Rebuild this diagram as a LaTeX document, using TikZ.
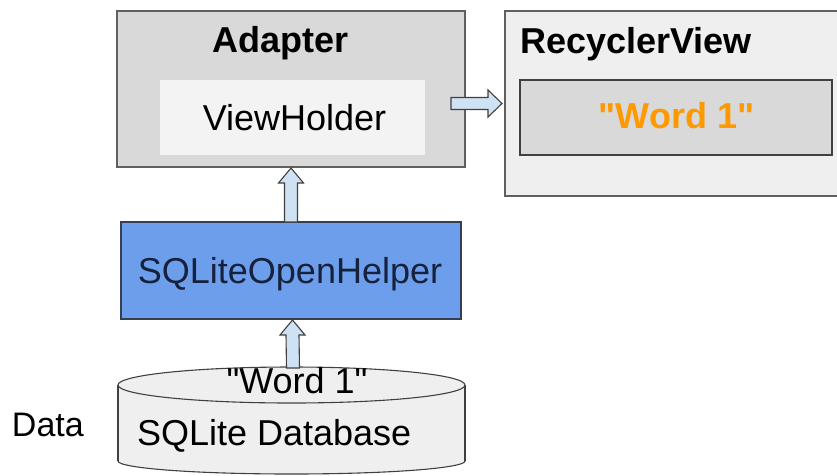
\documentclass[tikz,border=0pt]{standalone}
\usepackage{fontspec}
\setmainfont{Liberation Sans}[Ligatures=TeXOff]
\usetikzlibrary{calc}
\definecolor{adapterfill}{HTML}{D9D9D9}
\definecolor{holderfill}{HTML}{F3F3F3}
\definecolor{rvfill}{HTML}{EFEFEF}
\definecolor{wordfill}{HTML}{D9D9D9}
\definecolor{helperfill}{HTML}{6D9EEB}
\definecolor{helpertext}{HTML}{16223D}
\definecolor{arrowfill}{HTML}{CFE2F3}
\definecolor{wordorange}{HTML}{FF9900}
\definecolor{edgegray}{HTML}{606060}
\definecolor{edgedark}{HTML}{404040}
\begin{document}
\begin{tikzpicture}[x=1pt,y=-1pt,
  box/.style={rectangle, inner sep=0pt, outer sep=0pt, anchor=north west, line width=1.2pt},
  txt/.style={inner sep=0pt, outer sep=0pt, font=\fontsize{36}{43}\selectfont},
  barrow/.style={fill=arrowfill, draw=edgedark, line width=1.1pt, line join=miter},
  dbline/.style={draw=edgedark, line width=1.1pt}
]
\useasboundingbox (0,0) rectangle (837,475);

% Adapter
\node[box, fill=adapterfill, draw=edgegray, minimum width=348, minimum height=156] (adapter) at (117,11) {};
\node[box, fill=holderfill, minimum width=265, minimum height=75] (holder) at (160,80) {};
\node[txt, anchor=base] (tadapter) at (281,52) {\bfseries Adapter};
\node[txt, anchor=base] (tholder) at (294.5,130) {ViewHolder};

% RecyclerView
\node[box, fill=rvfill, draw=edgegray, minimum width=340, minimum height=185] (recycler) at (505,11) {};
\node[box, fill=wordfill, draw=edgedark, minimum width=312, minimum height=75] (wordbox) at (520,80) {};
\node[txt, anchor=base west] (trv) at (520,53) {\bfseries RecyclerView};
\node[txt, anchor=base, text=wordorange] (tword) at (676.5,128) {\bfseries "Word 1"};

% SQLiteOpenHelper
\node[box, fill=helperfill, draw=helpertext!70!gray, minimum width=340, minimum height=97] (helper) at (121,222) {};
\node[txt, anchor=base, text=helpertext] (thelper) at (290,283) {SQLiteOpenHelper};

% Database cylinder
\node[box, minimum width=347, minimum height=94] (db) at (118,367) {};
\fill[rvfill] (291.5,461) ellipse [x radius=173.5, y radius=13];
\draw[dbline] (291.5,461) ellipse [x radius=173.5, y radius=13];
\fill[rvfill] (118,385) rectangle (465,461);
\draw[dbline] (118,385) -- (118,461);
\draw[dbline] (465,385) -- (465,461);
\filldraw[fill=rvfill, dbline] (291.5,385) ellipse [x radius=173.5, y radius=18];

% Arrows
\draw[barrow] ($(helper.north)+(-6.5,0)$) -- ($(adapter.south)+(-6.5,16)$)
  -- ($(adapter.south)+(-12.5,16)$) -- ($(adapter.south)+(0,1)$)
  -- ($(adapter.south)+(12.5,16)$) -- ($(adapter.south)+(6.5,16)$)
  -- ($(helper.north)+(6.5,0)$) -- cycle;
\draw[barrow] ($(db.north)+(-5,1)$) -- ($(helper.south)+(-5,16)$)
  -- ($(helper.south)+(-11,16)$) -- ($(helper.south)+(1.5,1)$)
  -- ($(helper.south)+(14,16)$) -- ($(helper.south)+(8,16)$)
  -- ($(db.north)+(8,1)$) -- cycle;
\draw[barrow] ($(recycler.west)+(-54,-6)$) -- ($(recycler.west)+(-17,-6)$)
  -- ($(recycler.west)+(-17,-13.5)$) -- ($(recycler.west)+(-3,0)$)
  -- ($(recycler.west)+(-17,13.5)$) -- ($(recycler.west)+(-17,6)$)
  -- ($(recycler.west)+(-54,6)$) -- cycle;

\node[txt, anchor=base] (tdbword) at (297,393) {"Word 1"};
\node[txt, anchor=base west] (tdb) at (137,445) {SQLite Database};
\node[txt, anchor=base west, font=\fontsize{34}{40}\selectfont] (tdata) at (12,436) {Data};
\end{tikzpicture}
\end{document}
